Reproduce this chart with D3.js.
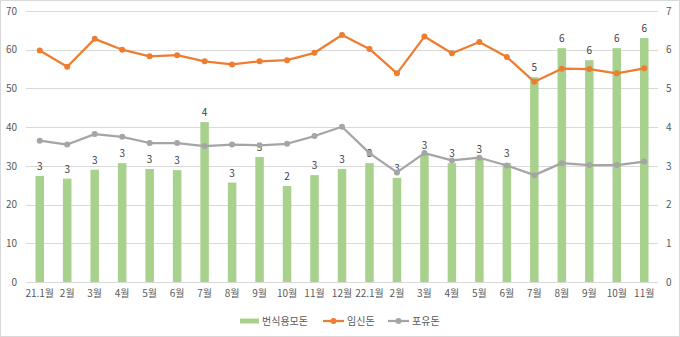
<!DOCTYPE html>
<html><head><meta charset="utf-8">
<script src="https://cdn.jsdelivr.net/npm/d3@7"></script>
<style>body{margin:0;background:#fff;}svg{display:block;font-family:"Noto Sans CJK KR","Noto Sans",sans-serif;}</style>
</head><body><svg id="c" width="680" height="337"></svg>
<script>
const categories = ["21.1월","2월","3월","4월","5월","6월","7월","8월","9월","10월","11월","12월","22.1월","2월","3월","4월","5월","6월","7월","8월","9월","10월","11월"];
const breeding = [2.74,2.67,2.90,3.07,2.92,2.89,4.13,2.57,3.23,2.48,2.76,2.92,3.07,2.69,3.29,3.07,3.17,3.07,5.29,6.04,5.73,6.04,6.30];
const pregnant = [59.8,55.6,62.8,60.0,58.3,58.6,57.0,56.2,57.0,57.3,59.2,63.8,60.2,53.9,63.4,59.1,62.0,58.1,51.7,55.1,55.0,53.9,55.2];
const nursing = [36.5,35.5,38.2,37.5,35.9,35.9,35.1,35.5,35.3,35.7,37.7,40.1,33.3,28.3,33.3,31.4,32.1,30.1,27.6,30.7,30.2,30.2,31.1];
const leftTicks = [0,10,20,30,40,50,60,70];
const rightTicks = [0,1,2,3,4,5,6,7];
const seriesNames = ["번식용모돈","임신돈","포유돈"];
const colors = ["#a9d18e","#ed7d31","#a5a5a5"];

const svg = d3.select("#c");
const m = {l:26, r:658, t:11, b:282};
svg.append("rect").attr("x",0.5).attr("y",0.5).attr("width",679).attr("height",336).attr("fill","#fff").attr("stroke","#d9d9d9");

const keys = categories.map((c,i)=>i);
const x = d3.scaleBand().domain(keys).range([m.l,m.r]).paddingInner(0.69).paddingOuter(0.345);
const yL = d3.scaleLinear().domain([0,70]).range([m.b,m.t]);
const yR = d3.scaleLinear().domain([0,7]).range([m.b,m.t]);
const cx = i => x(i)+x.bandwidth()/2;

// gridlines
svg.append("g").selectAll("line").data(leftTicks.filter(d=>d>0)).join("line")
  .attr("x1",m.l).attr("x2",m.r).attr("y1",d=>Math.round(yL(d))+0.5).attr("y2",d=>Math.round(yL(d))+0.5)
  .attr("stroke","#d9d9d9").attr("stroke-width",1);

// left axis
const la = svg.append("g").attr("transform",`translate(${m.l},0)`)
  .call(d3.axisLeft(yL).tickValues(leftTicks).tickFormat(d3.format("d")).tickSize(0).tickPadding(9));
la.select(".domain").remove();
la.selectAll("text").attr("fill","#595959").style("font-size","10px").style("font-family","'Noto Sans CJK KR'");

// right axis
const ra = svg.append("g").attr("transform",`translate(${m.r},0)`)
  .call(d3.axisRight(yR).tickValues(rightTicks).tickFormat(d3.format("d")).tickSize(0).tickPadding(8));
ra.select(".domain").remove();
ra.selectAll("text").attr("fill","#595959").style("font-size","10px").style("font-family","'Noto Sans CJK KR'");

// bars
svg.append("g").selectAll("rect").data(breeding).join("rect")
  .attr("x",(d,i)=>x(i)).attr("width",x.bandwidth())
  .attr("y",d=>yR(d)).attr("height",d=>yR(0)-yR(d)).attr("fill",colors[0]);

// bottom axis
svg.append("line").attr("x1",m.l).attr("x2",m.r).attr("y1",m.b+0.5).attr("y2",m.b+0.5).attr("stroke","#d9d9d9");
const xa = svg.append("g").attr("transform",`translate(0,${m.b})`)
  .call(d3.axisBottom(x).tickFormat(i=>categories[i]).tickSize(0).tickPadding(8));
xa.select(".domain").remove();
xa.selectAll("text").attr("fill","#595959").style("font-size","10px").style("font-family","'Noto Sans CJK KR'");

// bar labels
svg.append("g").selectAll("text").data(breeding).join("text")
  .attr("x",(d,i)=>cx(i)).attr("y",d=>yR(d)-6).attr("text-anchor","middle")
  .attr("fill","#404040").style("font-size","10px").text(d=>Math.round(d));

// lines
function drawLine(data,color){
  const line = d3.line().x((d,i)=>cx(i)).y(d=>yL(d));
  svg.append("path").datum(data).attr("d",line).attr("fill","none").attr("stroke",color).attr("stroke-width",2.25).attr("stroke-linejoin","round");
  svg.append("g").selectAll("circle").data(data).join("circle")
    .attr("cx",(d,i)=>cx(i)).attr("cy",d=>yL(d)).attr("r",3).attr("fill",color);
}
drawLine(nursing,colors[2]);
drawLine(pregnant,colors[1]);

// legend
const lg = svg.append("g").attr("transform","translate(0,321)");
lg.append("rect").attr("x",240).attr("y",-2.5).attr("width",19).attr("height",5).attr("fill",colors[0]);
lg.append("text").attr("x",262).attr("y",4).attr("fill","#595959").style("font-size","10px").text(seriesNames[0]);
lg.append("line").attr("x1",323).attr("x2",344).attr("y1",0).attr("y2",0).attr("stroke",colors[1]).attr("stroke-width",2.25);
lg.append("circle").attr("cx",333.5).attr("cy",0).attr("r",3).attr("fill",colors[1]);
lg.append("text").attr("x",347).attr("y",4).attr("fill","#595959").style("font-size","10px").text(seriesNames[1]);
lg.append("line").attr("x1",388).attr("x2",409).attr("y1",0).attr("y2",0).attr("stroke",colors[2]).attr("stroke-width",2.25);
lg.append("circle").attr("cx",398.5).attr("cy",0).attr("r",3).attr("fill",colors[2]);
lg.append("text").attr("x",412).attr("y",4).attr("fill","#595959").style("font-size","10px").text(seriesNames[2]);
</script></body></html>
